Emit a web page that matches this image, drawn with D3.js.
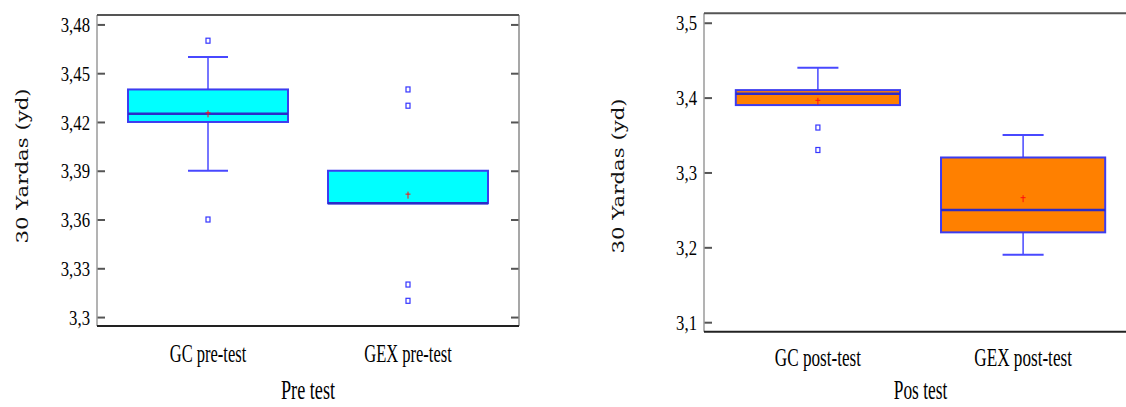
<!DOCTYPE html>
<html>
<head>
<meta charset="utf-8">
<script src="https://cdn.jsdelivr.net/npm/d3@7"></script>
<style>
  body { margin: 0; background: #fff; }
  svg { display: block; }
</style>
</head>
<body>
<div id="chart"></div>
<script>
// ---------- data ----------
const preGroups = ["GC pre-test", "GEX pre-test"];
const preLow = [3.39, 3.37];
const preQ1 = [3.42, 3.37];
const preMedian = [3.425, 3.37];
const preQ3 = [3.44, 3.39];
const preHigh = [3.46, 3.39];
const preMean = [3.425, 3.375];
const preOutliers = [[3.47, 3.36], [3.44, 3.43, 3.32, 3.31]];
const preTicks = [3.3, 3.33, 3.36, 3.39, 3.42, 3.45, 3.48];

const postGroups = ["GC post-test", "GEX post-test"];
const postLow = [3.39, 3.19];
const postQ1 = [3.39, 3.22];
const postMedian = [3.405, 3.25];
const postQ3 = [3.41, 3.32];
const postHigh = [3.44, 3.35];
const postMean = [3.395, 3.265];
const postOutliers = [[3.36, 3.33], []];
const postTicks = [3.1, 3.2, 3.3, 3.4, 3.5];

const yTitle = "30 Yardas (yd)";

// comma decimal, like the original
const fmt = d3.formatLocale({ decimal: ",", thousands: ".", grouping: [3], currency: ["", ""] }).format("~g");

const svg = d3.select("#chart").append("svg")
  .attr("width", 1126)
  .attr("height", 407);

function rows(groups, low, q1, med, q3, high, mean, outl) {
  return groups.map((g, i) => ({
    group: g, low: low[i], q1: q1[i], median: med[i], q3: q3[i],
    high: high[i], mean: mean[i], outliers: outl[i]
  }));
}

function panel(o) {
  const g = svg.append("g");
  const x = d3.scaleBand().domain(o.data.map(d => d.group))
    .range([o.left, o.right]).paddingInner(0.2).paddingOuter(0.155);
  const y = d3.scaleLinear().domain(o.domain).range([o.bottom, o.top]);

  // left axis, ticks pointing inwards
  const ax = g.append("g")
    .attr("transform", `translate(${o.left},0)`)
    .call(d3.axisLeft(y).tickValues(o.ticks).tickFormat(fmt).tickSize(-8).tickPadding(7));
  ax.select(".domain").remove();
  ax.selectAll("line").attr("stroke", "#555").attr("stroke-width", 2);
  ax.selectAll("text")
    .attr("font-family", "Liberation Serif, Times New Roman, serif")
    .attr("font-size", 22)
    .attr("fill", "#000")
    .attr("transform", "translate(-7,0) scale(0.76,1)")
    .attr("x", 0);

  if (o.rightTicks) {
    const ar = g.append("g")
      .attr("transform", `translate(${o.right},0)`)
      .call(d3.axisRight(y).tickValues(o.ticks).tickFormat("").tickSize(-8));
    ar.select(".domain").remove();
    ar.selectAll("line").attr("stroke", "#555").attr("stroke-width", 2);
  }

  // frame
  g.append("line").attr("x1", o.left).attr("x2", o.left).attr("y1", o.top).attr("y2", o.bottom)
    .attr("stroke", "#9a9a9a").attr("stroke-width", 1.5);
  g.append("line").attr("x1", o.right).attr("x2", o.right).attr("y1", o.top).attr("y2", o.bottom)
    .attr("stroke", "#8a8a8a").attr("stroke-width", 1.5);
  g.append("line").attr("x1", o.left).attr("x2", o.right).attr("y1", o.top).attr("y2", o.top)
    .attr("stroke", "#555").attr("stroke-width", 2);
  g.append("line").attr("x1", o.left).attr("x2", o.right).attr("y1", o.bottom).attr("y2", o.bottom)
    .attr("stroke", "#222").attr("stroke-width", 2);

  const bw = x.bandwidth();
  const box = g.selectAll(".box").data(o.data).join("g").attr("class", "box");
  const cx = d => x(d.group) + bw / 2;

  // whiskers
  box.append("line").attr("x1", cx).attr("x2", cx)
    .attr("y1", d => y(d.q3)).attr("y2", d => y(d.high))
    .attr("stroke", "#4848ff").attr("stroke-width", 1.5);
  box.append("line").attr("x1", cx).attr("x2", cx)
    .attr("y1", d => y(d.q1)).attr("y2", d => y(d.low))
    .attr("stroke", "#4848ff").attr("stroke-width", 1.5);
  box.filter(d => d.high > d.q3).append("line")
    .attr("x1", d => cx(d) - bw / 8).attr("x2", d => cx(d) + bw / 8)
    .attr("y1", d => y(d.high)).attr("y2", d => y(d.high))
    .attr("stroke", "#4848ff").attr("stroke-width", 2);
  box.filter(d => d.low < d.q1).append("line")
    .attr("x1", d => cx(d) - bw / 8).attr("x2", d => cx(d) + bw / 8)
    .attr("y1", d => y(d.low)).attr("y2", d => y(d.low))
    .attr("stroke", "#4848ff").attr("stroke-width", 2);

  // box
  box.append("rect")
    .attr("x", d => x(d.group)).attr("width", bw)
    .attr("y", d => y(d.q3)).attr("height", d => y(d.q1) - y(d.q3))
    .attr("fill", o.fill).attr("stroke", "#3c3cf0").attr("stroke-width", 2);
  box.append("line")
    .attr("x1", d => x(d.group)).attr("x2", d => x(d.group) + bw)
    .attr("y1", d => y(d.median)).attr("y2", d => y(d.median))
    .attr("stroke", "#2c2cc8").attr("stroke-width", 2.5);

  // mean "+"
  box.append("line").attr("x1", cx).attr("x2", cx)
    .attr("y1", d => y(d.mean) - 3.5).attr("y2", d => y(d.mean) + 3.5)
    .attr("stroke", "#ff1010").attr("stroke-width", 1);
  box.append("line").attr("x1", d => cx(d) - 2.5).attr("x2", d => cx(d) + 2.5)
    .attr("y1", d => y(d.mean) - 1).attr("y2", d => y(d.mean) - 1)
    .attr("stroke", "#ff1010").attr("stroke-width", 1);

  // outliers
  box.selectAll(".out").data(d => d.outliers.map(v => ({ v, c: cx(d) }))).join("rect")
    .attr("class", "out")
    .attr("x", d => d.c - 2).attr("y", d => y(d.v) - 2.5)
    .attr("width", 4).attr("height", 5)
    .attr("fill", "#fff").attr("stroke", "#3535ff").attr("stroke-width", 1.2);

  // category labels
  g.selectAll(".cat").data(o.data).join("text")
    .attr("class", "cat")
    .attr("transform", d => `translate(${cx(d)},${o.catY}) scale(0.66,1)`)
    .attr("text-anchor", "middle")
    .attr("font-family", "Liberation Serif, Times New Roman, serif")
    .attr("font-size", o.catSize)
    .attr("fill", "#000")
    .text(d => d.group);

  // x title
  g.append("text")
    .attr("transform", `translate(${(o.left + o.right) / 2},${o.titleY}) scale(${o.titleScale},1)`)
    .attr("text-anchor", "middle")
    .attr("font-family", "Liberation Serif, Times New Roman, serif")
    .attr("font-size", 28)
    .attr("fill", "#000")
    .text(o.title);

  // y title
  g.append("text")
    .attr("transform", `translate(${o.yTitleX},${o.yTitleY}) rotate(-90) scale(1.33,1)`)
    .attr("text-anchor", "middle")
    .attr("font-family", "DejaVu Serif, serif")
    .attr("font-size", 16)
    .attr("fill", "#111")
    .text(yTitle);
}

panel({
  data: rows(preGroups, preLow, preQ1, preMedian, preQ3, preHigh, preMean, preOutliers),
  ticks: preTicks, domain: [3.2945, 3.4858],
  left: 97, right: 519, top: 15, bottom: 326,
  fill: "#00ffff", rightTicks: true,
  catY: 362, catSize: 25, title: "Pre test", titleY: 399, titleScale: 0.65,
  yTitleX: 28, yTitleY: 166
});

panel({
  data: rows(postGroups, postLow, postQ1, postMedian, postQ3, postHigh, postMean, postOutliers),
  ticks: postTicks, domain: [3.0873, 3.5126],
  left: 704, right: 1137, top: 13.3, bottom: 331.7,
  fill: "#ff8000", rightTicks: false,
  catY: 366, catSize: 26, title: "Pos test", titleY: 399, titleScale: 0.62,
  yTitleX: 624, yTitleY: 176
});
</script>
</body>
</html>
